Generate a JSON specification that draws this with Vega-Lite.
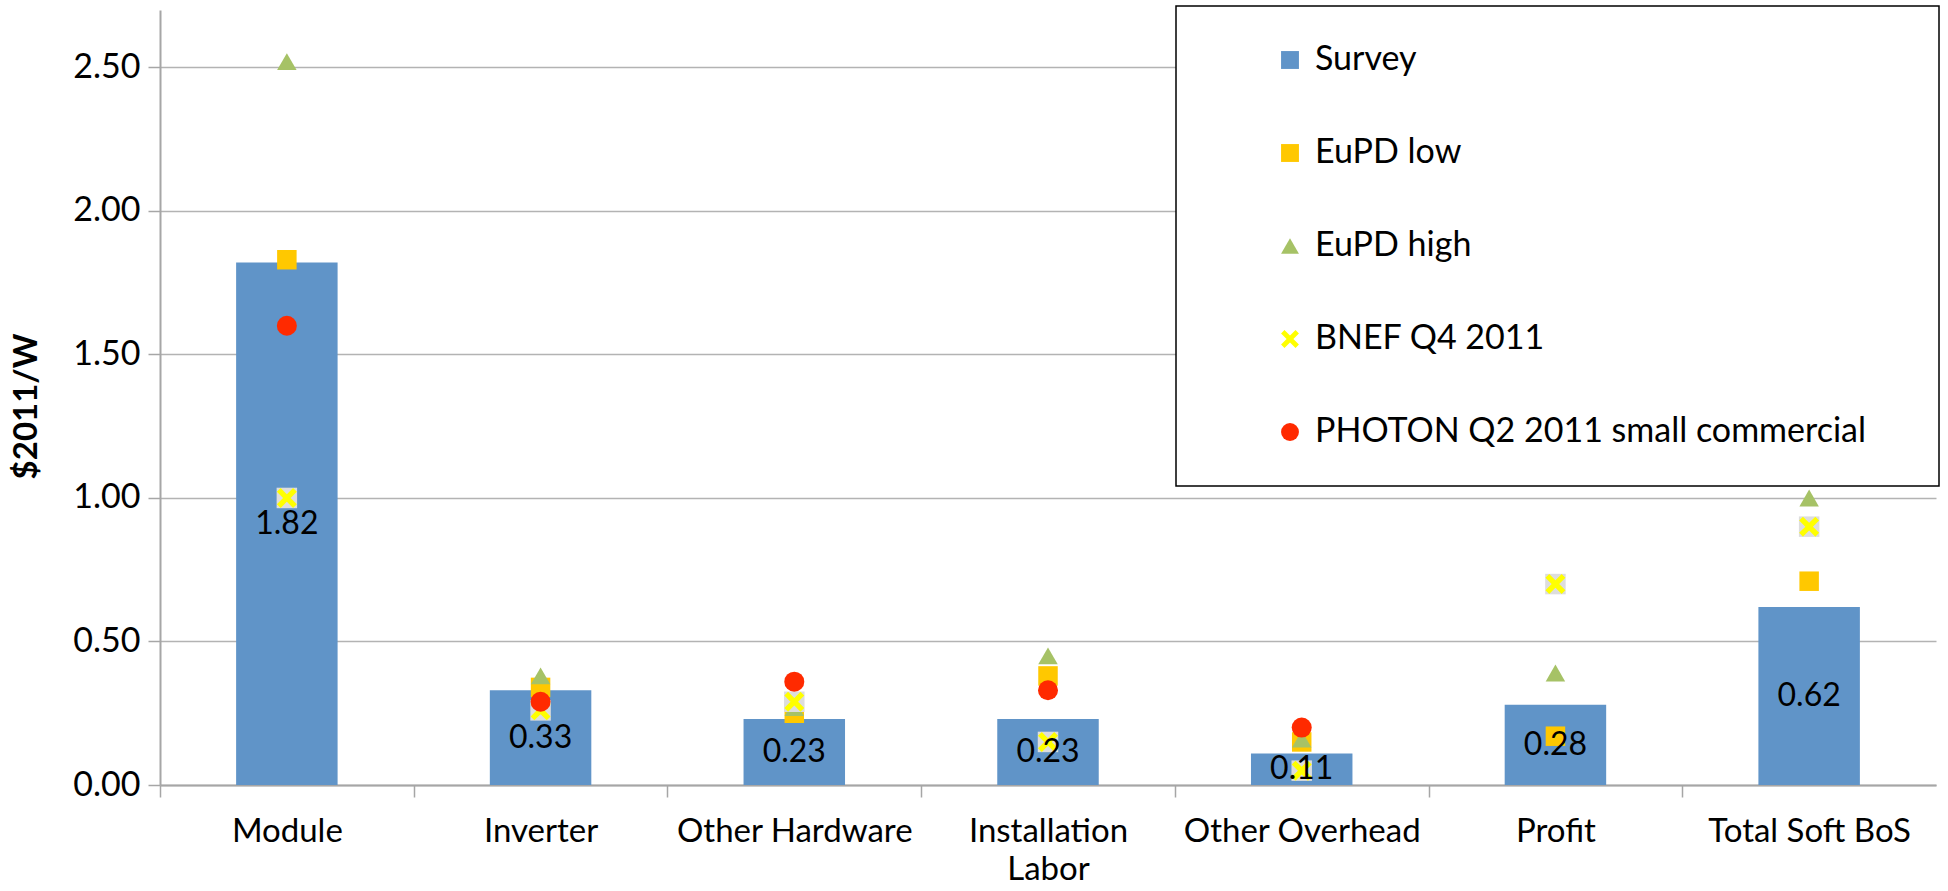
{
  "$schema": "https://vega.github.io/schema/vega-lite/v6.json",
  "width": 1776,
  "height": 775,
  "autosize": {"type": "none"},
  "padding": {"left": 160, "top": 10, "right": 12, "bottom": 106},
  "background": "white",
  "config": {
    "view": {"stroke": null},
    "font": "Lato",
    "legend": {
      "orient": "none",
      "legendX": 1016,
      "legendY": -4,
      "fillColor": "white",
      "strokeColor": "black",
      "strokeWidth": 1.5,
      "padding": 37,
      "rowPadding": 59,
      "labelFont": "Lato",
      "labelFontSize": 34,
      "labelColor": "black",
      "labelLimit": 0,
      "labelOffset": 8,
      "symbolSize": 320,
      "symbolOffset": 60,
      "symbolStrokeWidth": 0,
      "symbolOpacity": 1,
      "titleOrient": "right",
      "titlePadding": 36,
      "titleFontSize": 10
    }
  },
  "data": {
    "values": [
      {"category": "Module", "series": "Survey", "value": 1.82},
      {"category": "Inverter", "series": "Survey", "value": 0.33},
      {"category": "Other Hardware", "series": "Survey", "value": 0.23},
      {"category": "Installation Labor", "series": "Survey", "value": 0.23},
      {"category": "Other Overhead", "series": "Survey", "value": 0.11},
      {"category": "Profit", "series": "Survey", "value": 0.28},
      {"category": "Total Soft BoS", "series": "Survey", "value": 0.62},
      {"category": "Module", "series": "EuPD low", "value": 1.83},
      {"category": "Inverter", "series": "EuPD low", "value": 0.34},
      {"category": "Other Hardware", "series": "EuPD low", "value": 0.25},
      {"category": "Installation Labor", "series": "EuPD low", "value": 0.38},
      {"category": "Other Overhead", "series": "EuPD low", "value": 0.15},
      {"category": "Profit", "series": "EuPD low", "value": 0.17},
      {"category": "Total Soft BoS", "series": "EuPD low", "value": 0.71},
      {"category": "Module", "series": "EuPD high", "value": 2.52},
      {"category": "Inverter", "series": "EuPD high", "value": 0.38},
      {"category": "Other Hardware", "series": "EuPD high", "value": 0.27},
      {"category": "Installation Labor", "series": "EuPD high", "value": 0.45},
      {"category": "Other Overhead", "series": "EuPD high", "value": 0.16},
      {"category": "Profit", "series": "EuPD high", "value": 0.39},
      {"category": "Total Soft BoS", "series": "EuPD high", "value": 1.0},
      {"category": "Module", "series": "BNEF Q4 2011", "value": 1.0},
      {"category": "Inverter", "series": "BNEF Q4 2011", "value": 0.26},
      {"category": "Other Hardware", "series": "BNEF Q4 2011", "value": 0.29},
      {"category": "Installation Labor", "series": "BNEF Q4 2011", "value": 0.15},
      {"category": "Other Overhead", "series": "BNEF Q4 2011", "value": 0.05},
      {"category": "Profit", "series": "BNEF Q4 2011", "value": 0.7},
      {"category": "Total Soft BoS", "series": "BNEF Q4 2011", "value": 0.9},
      {"category": "Module", "series": "PHOTON Q2 2011 small commercial", "value": 1.6},
      {"category": "Inverter", "series": "PHOTON Q2 2011 small commercial", "value": 0.29},
      {"category": "Other Hardware", "series": "PHOTON Q2 2011 small commercial", "value": 0.36},
      {"category": "Installation Labor", "series": "PHOTON Q2 2011 small commercial", "value": 0.33},
      {"category": "Other Overhead", "series": "PHOTON Q2 2011 small commercial", "value": 0.2}
    ]
  },
  "encoding": {
    "x": {
      "field": "category",
      "type": "nominal",
      "sort": ["Module", "Inverter", "Other Hardware", "Installation Labor", "Other Overhead", "Profit", "Total Soft BoS"],
      "scale": {"paddingInner": 0.6, "paddingOuter": 0.3},
      "axis": {
        "title": null,
        "labelAngle": 0,
        "labelOverlap": false,
        "domainColor": "#A6A6A6",
        "domainWidth": 2,
        "tickColor": "#A6A6A6",
        "tickSize": 12,
        "tickWidth": 1.5,
        "bandPosition": 0,
        "tickOffset": -76.1,
        "labelOffset": 76.1,
        "labelFont": "Lato",
        "labelFontSize": 33,
        "labelColor": "black",
        "labelPadding": 18,
        "labelLimit": 0,
        "labelLineHeight": 38,
        "labelExpr": "datum.label == 'Installation Labor' ? ['Installation', 'Labor'] : datum.label"
      }
    },
    "y": {
      "field": "value",
      "type": "quantitative",
      "scale": {"domain": [0, 2.7], "nice": false, "zero": true},
      "axis": {
        "values": [0, 0.5, 1, 1.5, 2, 2.5],
        "format": ".2f",
        "grid": true,
        "gridColor": "#B3B3B3",
        "gridWidth": 1.5,
        "domainColor": "#A6A6A6",
        "domainWidth": 2,
        "tickColor": "#A6A6A6",
        "tickSize": 12,
        "tickWidth": 1.5,
        "labelFont": "Lato",
        "labelFontSize": 34,
        "labelColor": "black",
        "labelPadding": 8,
        "title": "$2011/W",
        "titleFont": "Lato",
        "titleFontSize": 33,
        "titleFontWeight": "bold",
        "titleColor": "black",
        "titleAngle": -90,
        "titleX": -134,
        "titleY": 396,
        "titleAlign": "center",
        "titleBaseline": "middle"
      }
    }
  },
  "layer": [
    {
      "transform": [{"filter": "datum.series == 'Survey'"}],
      "mark": {"type": "bar", "opacity": 1},
      "encoding": {
        "color": {
          "field": "series",
          "type": "nominal",
          "title": "\u00a0",
          "scale": {
            "domain": ["Survey", "EuPD low", "EuPD high", "BNEF Q4 2011", "PHOTON Q2 2011 small commercial"],
            "range": ["#6094C8", "#FFC800", "#A6C266", "#FFFF00", "#FF2A00"]
          }
        }
      }
    },
    {
      "transform": [{"filter": "datum.series == 'EuPD low' || datum.series == 'EuPD high'"}],
      "mark": {"type": "point", "filled": true, "opacity": 1, "size": 380, "strokeWidth": 0},
      "encoding": {
        "color": {"field": "series", "type": "nominal", "title": "\u00a0"},
        "shape": {
          "field": "series",
          "type": "nominal",
          "title": "\u00a0",
          "scale": {
            "domain": ["Survey", "EuPD low", "EuPD high", "BNEF Q4 2011", "PHOTON Q2 2011 small commercial"],
            "range": ["square", "square", "triangle-up", "M-1,-0.62L-0.62,-1L0,-0.38L0.62,-1L1,-0.62L0.38,0L1,0.62L0.62,1L0,0.38L-0.62,1L-1,0.62L-0.38,0Z", "circle"]
          }
        }
      }
    },
    {
      "transform": [{"filter": "datum.series == 'BNEF Q4 2011'"}],
      "mark": {"type": "point", "filled": true, "opacity": 1, "size": 420, "shape": "square", "color": "#DDDDDD", "strokeWidth": 0}
    },
    {
      "transform": [{"filter": "datum.series == 'BNEF Q4 2011' || datum.series == 'PHOTON Q2 2011 small commercial'"}],
      "mark": {"type": "point", "filled": true, "opacity": 1, "size": 400, "strokeWidth": 0},
      "encoding": {
        "color": {"field": "series", "type": "nominal", "title": "\u00a0"},
        "shape": {"field": "series", "type": "nominal", "title": "\u00a0"}
      }
    },
    {
      "transform": [
        {"filter": "datum.series == 'Survey'"},
        {"calculate": "datum.value / 2", "as": "mid"}
      ],
      "mark": {"type": "text", "font": "Lato", "fontSize": 32, "color": "black", "baseline": "middle", "align": "center"},
      "encoding": {
        "y": {"field": "mid", "type": "quantitative", "title": "$2011/W"},
        "text": {"field": "value", "type": "quantitative", "format": ".2f"}
      }
    }
  ]
}
